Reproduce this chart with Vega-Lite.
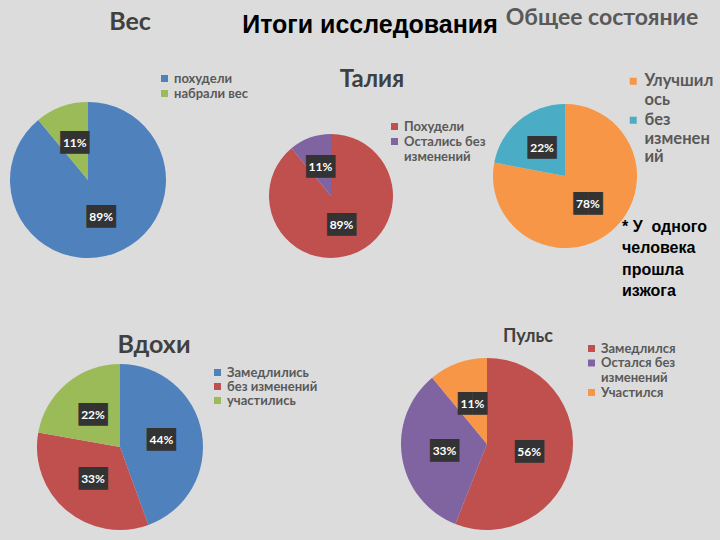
{
  "$schema": "https://vega.github.io/schema/vega-lite/v6.json",
  "background": "#dcdcdc",
  "padding": {"left": 0, "top": 0, "right": 12, "bottom": 10},
  "spacing": 0,
  "columns": 3,
  "align": "each",
  "bounds": "flush",
  "title": {"text": "Итоги исследования", "frame": "group", "anchor": "start", "align": "center", "dx": 370, "offset": -38, "baseline": "top", "font": "Liberation Sans", "fontSize": 25, "fontWeight": "bold", "color": "#000000"},
  "config": {
    "view": {"stroke": null},
    "legend": {"orient": "none", "padding": 0, "symbolType": "square", "symbolSize": 49, "labelColor": "#595959", "labelFont": "Lato", "labelFontWeight": "bold", "labelFontSize": 13, "labelOffset": 3, "symbolOpacity": 1, "symbolStrokeWidth": 0}
  },
  "datasets": {
    "ves": [{"k": "похудели", "v": 0.89, "i": 1}, {"k": "набрали вес", "v": 0.11, "i": 2}],
    "talia": [{"k": "Похудели", "v": 0.89, "i": 1}, {"k": "Остались без изменений", "v": 0.11, "i": 2}],
    "obshee": [{"k": "Улучшилось", "v": 0.78, "i": 1}, {"k": "без изменений", "v": 0.22, "i": 2}],
    "vdohi": [{"k": "Замедлились", "v": 0.44, "i": 1}, {"k": "без изменений", "v": 0.33, "i": 2}, {"k": "участились", "v": 0.22, "i": 3}],
    "puls": [{"k": "Замедлился", "v": 0.56, "i": 1}, {"k": "Остался без изменений", "v": 0.33, "i": 2}, {"k": "Участился", "v": 0.11, "i": 3}],
    "empty": []
  },
  "resolve": {"scale": {"color": "independent", "theta": "independent"}, "legend": {"color": "independent"}},
  "concat": [
    {
      "width": 176, "height": 360,
      "data": {"name": "ves"},
      "title": {"text": "Вес", "frame": "group", "anchor": "middle", "dx": 42, "offset": -35, "baseline": "top", "font": "Lato", "fontSize": 25, "fontWeight": "bold", "color": "#404040"},
      "encoding": {"theta": {"field": "v", "type": "quantitative", "stack": true}, "order": {"field": "i", "type": "quantitative"}},
      "layer": [
        {"mark": {"type": "arc", "outerRadius": 78}, "encoding": {"color": {"field": "k", "type": "nominal", "scale": {"domain": ["похудели", "набрали вес"], "range": ["#4f81bd", "#9bbb59"]}, "legend": {"title": null, "legendX": 158, "legendY": 72, "rowPadding": 1}}}},
        {"mark": {"type": "text", "radius": 39, "text": "██", "font": "DejaVu Sans", "fontSize": 19, "baseline": "middle", "align": "center", "color": "#333333"}, "encoding": {"detail": {"field": "k"}}},
        {"mark": {"type": "text", "radius": 39, "font": "Lato", "fontSize": 12, "fontWeight": "bold", "baseline": "middle", "align": "center", "color": "#ffffff"}, "encoding": {"detail": {"field": "k"}, "text": {"field": "v", "type": "quantitative", "format": ".0%"}}}
      ]
    },
    {
      "width": 182, "height": 392,
      "data": {"name": "talia"},
      "title": {"text": "Талия", "frame": "group", "anchor": "middle", "dx": 41, "offset": -92, "baseline": "top", "font": "Lato", "fontSize": 24, "fontWeight": "bold", "color": "#404040"},
      "encoding": {"theta": {"field": "v", "type": "quantitative", "stack": true}, "order": {"field": "i", "type": "quantitative"}},
      "layer": [
        {"mark": {"type": "arc", "outerRadius": 62}, "encoding": {"color": {"field": "k", "type": "nominal", "scale": {"domain": ["Похудели", "Остались без изменений"], "range": ["#c0504d", "#8064a2"]}, "legend": {"title": null, "legendX": 148, "legendY": 120, "rowPadding": 1, "labelExpr": "datum.label == 'Остались без изменений' ? ['Остались без', 'изменений'] : datum.label"}}}},
        {"mark": {"type": "text", "radius": 31, "text": "██", "font": "DejaVu Sans", "fontSize": 19, "baseline": "middle", "align": "center", "color": "#333333"}, "encoding": {"detail": {"field": "k"}}},
        {"mark": {"type": "text", "radius": 31, "font": "Lato", "fontSize": 12, "fontWeight": "bold", "baseline": "middle", "align": "center", "color": "#ffffff"}, "encoding": {"detail": {"field": "k"}, "text": {"field": "v", "type": "quantitative", "format": ".0%"}}}
      ]
    },
    {
      "vconcat": [
        {
          "width": 286, "height": 352,
          "data": {"name": "obshee"},
          "title": {"text": "Общее состояние", "frame": "group", "anchor": "middle", "dx": 37, "offset": -30, "baseline": "top", "font": "Lato", "fontSize": 23, "fontWeight": "bold", "color": "#595959"},
          "encoding": {"theta": {"field": "v", "type": "quantitative", "stack": true}, "order": {"field": "i", "type": "quantitative"}},
          "layer": [
            {"mark": {"type": "arc", "outerRadius": 72}, "encoding": {"color": {"field": "k", "type": "nominal", "scale": {"domain": ["Улучшилось", "без изменений"], "range": ["#f79646", "#4bacc6"]}, "legend": {"title": null, "legendX": 203, "legendY": 73, "rowPadding": 3, "labelFontSize": 16.5, "labelExpr": "datum.label == 'Улучшилось' ? ['Улучшил', 'ось'] : ['без', 'изменен', 'ий']"}}}},
            {"mark": {"type": "text", "radius": 36, "text": "██", "font": "DejaVu Sans", "fontSize": 19, "baseline": "middle", "align": "center", "color": "#333333"}, "encoding": {"detail": {"field": "k"}}},
            {"mark": {"type": "text", "radius": 36, "font": "Lato", "fontSize": 12, "fontWeight": "bold", "baseline": "middle", "align": "center", "color": "#ffffff"}, "encoding": {"detail": {"field": "k"}, "text": {"field": "v", "type": "quantitative", "format": ".0%"}}}
          ]
        }
      ],
      "spacing": 0,
      "bounds": "flush",
      "title": {"text": ["* У\u00a0 одного", "человека", "прошла", "изжога"], "frame": "group", "anchor": "start", "align": "left", "dx": 200, "offset": -299, "baseline": "top", "lineHeight": 21.5, "font": "Liberation Sans", "fontSize": 16, "fontWeight": "bold", "color": "#000000"}
    },
    {
      "width": 240, "height": 110,
      "data": {"name": "vdohi"},
      "title": {"text": "Вдохи", "frame": "group", "anchor": "middle", "dx": 34, "offset": 6, "baseline": "top", "font": "Lato", "fontSize": 25, "fontWeight": "bold", "color": "#404040"},
      "encoding": {"theta": {"field": "v", "type": "quantitative", "stack": true}, "order": {"field": "i", "type": "quantitative"}},
      "layer": [
        {"mark": {"type": "arc", "outerRadius": 83}, "encoding": {"color": {"field": "k", "type": "nominal", "scale": {"domain": ["Замедлились", "без изменений", "участились"], "range": ["#4f81bd", "#c0504d", "#9bbb59"]}, "legend": {"title": null, "legendX": 211, "legendY": -26, "rowPadding": 0}}}},
        {"mark": {"type": "text", "radius": 42, "text": "██", "font": "DejaVu Sans", "fontSize": 19, "baseline": "middle", "align": "center", "color": "#333333"}, "encoding": {"detail": {"field": "k"}}},
        {"mark": {"type": "text", "radius": 42, "font": "Lato", "fontSize": 12, "fontWeight": "bold", "baseline": "middle", "align": "center", "color": "#ffffff"}, "encoding": {"detail": {"field": "k"}, "text": {"field": "v", "type": "quantitative", "format": ".0%"}}}
      ]
    },
    {
      "width": 1, "height": 1,
      "data": {"name": "empty"},
      "mark": {"type": "point", "opacity": 0}
    },
    {
      "width": 130, "height": 104,
      "data": {"name": "puls"},
      "title": {"text": "Пульс", "frame": "group", "anchor": "middle", "dx": 41, "offset": -4, "baseline": "top", "font": "Lato", "fontSize": 18, "fontWeight": "bold", "color": "#404040"},
      "encoding": {"theta": {"field": "v", "type": "quantitative", "stack": true}, "order": {"field": "i", "type": "quantitative"}},
      "layer": [
        {"mark": {"type": "arc", "outerRadius": 86}, "encoding": {"color": {"field": "k", "type": "nominal", "scale": {"domain": ["Замедлился", "Остался без изменений", "Участился"], "range": ["#c0504d", "#8064a2", "#f79646"]}, "legend": {"title": null, "legendX": 163, "legendY": -50, "rowPadding": 0.5, "labelExpr": "datum.label == 'Остался без изменений' ? ['Остался без', 'изменений'] : datum.label"}}}},
        {"mark": {"type": "text", "radius": 43, "text": "██", "font": "DejaVu Sans", "fontSize": 19, "baseline": "middle", "align": "center", "color": "#333333"}, "encoding": {"detail": {"field": "k"}}},
        {"mark": {"type": "text", "radius": 43, "font": "Lato", "fontSize": 12, "fontWeight": "bold", "baseline": "middle", "align": "center", "color": "#ffffff"}, "encoding": {"detail": {"field": "k"}, "text": {"field": "v", "type": "quantitative", "format": ".0%"}}}
      ]
    }
  ]
}
